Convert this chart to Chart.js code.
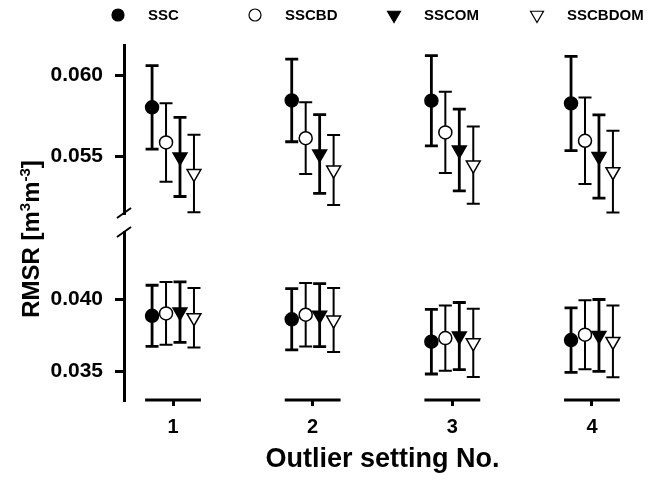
<!DOCTYPE html>
<html lang="en">
<head>
    <meta charset="UTF-8">
    <title>RMSR by outlier setting</title>
    <script src="https://cdn.jsdelivr.net/npm/chart.js"></script>
    <style>
        body { margin: 0; background: #fff; }
        #wrap { width: 652px; height: 485px; }
    </style>
</head>
<body>
    <div id="wrap">
        <canvas id="chartCanvas" width="652" height="485"></canvas>
    </div>

    <script>
        // Outlier settings (x categories) and series names
        const settings = ['1', '2', '3', '4'];
        const seriesNames = ['SSC', 'SSCBD', 'SSCOM', 'SSCBDOM'];

        // Upper panel: RMSR means and error (m3 m-3)
        const sscHigh = [0.05804, 0.05847, 0.05845, 0.05828];
        const sscbdHigh = [0.05587, 0.05613, 0.05649, 0.05597];
        const sscomHigh = [0.05497, 0.05515, 0.05540, 0.05500];
        const sscbdomHigh = [0.05394, 0.05416, 0.05447, 0.05406];
        const sscHighErr = [0.00258, 0.00256, 0.00279, 0.00292];
        const sscbdHighErr = [0.00243, 0.00222, 0.00252, 0.00268];
        const sscomHighErr = [0.00245, 0.00244, 0.00253, 0.00258];
        const sscbdomHighErr = [0.00240, 0.00217, 0.00239, 0.00253];

        // Lower panel: RMSR means and error
        const sscLow = [0.03886, 0.03862, 0.03706, 0.03717];
        const sscbdLow = [0.03903, 0.03894, 0.03731, 0.03755];
        const sscomLow = [0.03912, 0.03891, 0.03745, 0.03750];
        const sscbdomLow = [0.03873, 0.03857, 0.03698, 0.03708];
        const sscLowErr = [0.00213, 0.00213, 0.00225, 0.00225];
        const sscbdLowErr = [0.00219, 0.00221, 0.00227, 0.00240];
        const sscomLowErr = [0.00210, 0.00219, 0.00234, 0.00250];
        const sscbdomLowErr = [0.00207, 0.00223, 0.00237, 0.00250];

        // Tick values for the two parts of the broken y axis
        const highTicks = [0.055, 0.060];
        const lowTicks = [0.035, 0.040];

        const FONT = '"Liberation Sans", Arial, sans-serif';

        // marker style per series
        const styles = [
            { pointStyle: 'circle', rotation: 0, radius: 6.5, fill: '#000', errWidth: 2.8 },
            { pointStyle: 'circle', rotation: 0, radius: 6.5, fill: '#fff', errWidth: 2 },
            { pointStyle: 'triangle', rotation: 180, radius: 8, fill: '#000', errWidth: 2.8 },
            { pointStyle: 'triangle', rotation: 180, radius: 8, fill: '#fff', errWidth: 2 }
        ];

        const highData = [sscHigh, sscbdHigh, sscomHigh, sscbdomHigh];
        const highErr = [sscHighErr, sscbdHighErr, sscomHighErr, sscbdomHighErr];
        const lowData = [sscLow, sscbdLow, sscomLow, sscbdomLow];
        const lowErr = [sscLowErr, sscbdLowErr, sscomLowErr, sscbdomLowErr];

        // spread the four series around each setting
        const GROUP_SPREAD = 0.1;

        function makeDataset(s, values, errors, axis) {
            const st = styles[s];
            return {
                label: seriesNames[s],
                yAxisID: axis,
                data: values.map((v, i) => ({ x: i + 1 + (s - 1.5) * GROUP_SPREAD, y: v })),
                err: errors,
                errWidth: st.errWidth,
                pointStyle: st.pointStyle,
                pointRotation: st.rotation,
                pointRadius: st.radius,
                pointBackgroundColor: st.fill,
                pointBorderColor: '#000',
                pointBorderWidth: 1.5,
                showLine: false
            };
        }

        const datasets = [];
        for (let s = 0; s < seriesNames.length; s++) {
            datasets.push(makeDataset(s, highData[s], highErr[s], 'yHigh'));
            datasets.push(makeDataset(s, lowData[s], lowErr[s], 'yLow'));
        }

        // Error bars, drawn before the markers
        const errorBars = {
            id: 'errorBars',
            beforeDatasetsDraw(chart) {
                const ctx = chart.ctx;
                ctx.save();
                ctx.strokeStyle = '#000';
                chart.data.datasets.forEach((ds, di) => {
                    const meta = chart.getDatasetMeta(di);
                    const ys = chart.scales[ds.yAxisID];
                    ctx.lineWidth = ds.errWidth;
                    meta.data.forEach((pt, i) => {
                        const v = ds.data[i].y, e = ds.err[i];
                        const top = ys.getPixelForValue(v + e);
                        const bot = ys.getPixelForValue(v - e);
                        ctx.beginPath();
                        ctx.moveTo(pt.x, top); ctx.lineTo(pt.x, bot);
                        ctx.moveTo(pt.x - 6.5, top); ctx.lineTo(pt.x + 6.5, top);
                        ctx.moveTo(pt.x - 6.5, bot); ctx.lineTo(pt.x + 6.5, bot);
                        ctx.stroke();
                    });
                });
                ctx.restore();
            }
        };

        // Axis decorations: x segments under each setting, break marks, y title, legend
        const decorations = {
            id: 'decorations',
            afterDraw(chart) {
                const ctx = chart.ctx;
                const xs = chart.scales.x;
                const hi = chart.scales.yHigh;
                const lo = chart.scales.yLow;
                ctx.save();
                ctx.strokeStyle = '#000';
                ctx.fillStyle = '#000';

                // x axis pieces
                ctx.lineWidth = 3;
                settings.forEach((s, i) => {
                    const y = chart.chartArea.bottom;
                    ctx.beginPath();
                    ctx.moveTo(xs.getPixelForValue(i + 1 - 0.2), y);
                    ctx.lineTo(xs.getPixelForValue(i + 1 + 0.2), y);
                    ctx.stroke();
                });

                // break marks
                const ax = hi.right;
                ctx.lineWidth = 2;
                [hi.bottom, lo.top].forEach(y => {
                    ctx.beginPath();
                    ctx.moveTo(ax - 7, y + 5);
                    ctx.lineTo(ax + 7, y - 5);
                    ctx.stroke();
                });

                // y title with superscripts
                ctx.translate(31, 239);
                ctx.rotate(-Math.PI / 2);
                const parts = [
                    ['RMSR [m', 0], ['3', 1], ['m', 0], ['-3', 1], [']', 0]
                ];
                const big = 'bold 24px ' + FONT, small = 'bold 15px ' + FONT;
                let w = 0;
                parts.forEach(p => { ctx.font = p[1] ? small : big; w += ctx.measureText(p[0]).width; });
                let x = -w / 2;
                ctx.textBaseline = 'alphabetic';
                parts.forEach(p => {
                    ctx.font = p[1] ? small : big;
                    ctx.fillText(p[0], x, p[1] ? -1 : 8);
                    x += ctx.measureText(p[0]).width;
                });
                ctx.restore();

                // legend
                ctx.save();
                const legendX = [118, 255, 394, 537];
                const ly = 15;
                ctx.font = 'bold 15px ' + FONT;
                ctx.textBaseline = 'middle';
                seriesNames.forEach((name, s) => {
                    const st = styles[s];
                    ctx.fillStyle = st.fill;
                    ctx.strokeStyle = '#000';
                    ctx.lineWidth = 1.2;
                    Chart.helpers.drawPoint(ctx, {
                        pointStyle: st.pointStyle,
                        rotation: st.rotation,
                        radius: st.pointStyle === 'circle' ? 6 : 7.5,
                        borderWidth: 1.2
                    }, legendX[s], ly);
                    ctx.fillStyle = '#000';
                    ctx.fillText(name, legendX[s] + 30, ly + 1);
                });
                ctx.restore();
            }
        };

        const yCommon = {
            type: 'linear',
            position: 'left',
            stack: 'rmsr',
            afterFit(s) { s.width = 124; },
            border: { display: true, color: '#000', width: 3 },
            grid: { drawOnChartArea: false, drawTicks: true, tickLength: 9, color: '#000', lineWidth: 3 },
            ticks: {
                color: '#000',
                padding: 12,
                font: { family: FONT, size: 21, weight: 'bold' },
                callback: v => v.toFixed(3)
            }
        };

        new Chart(document.getElementById('chartCanvas'), {
            type: 'scatter',
            data: { datasets: datasets },
            options: {
                responsive: false,
                animation: false,
                layout: { padding: { top: 45, right: 11, left: 0, bottom: 0 } },
                plugins: { legend: { display: false }, tooltip: { enabled: false } },
                scales: {
                    x: {
                        type: 'linear',
                        position: 'bottom',
                        min: 0.649,
                        max: 4.351,
                        afterFit(s) { s.height = 85; },
                        afterBuildTicks(s) { s.ticks = settings.map((t, i) => ({ value: i + 1 })); },
                        border: { display: false },
                        grid: { drawOnChartArea: false, drawTicks: true, tickLength: 6, color: '#000', lineWidth: 3 },
                        ticks: {
                            color: '#000',
                            padding: 9,
                            font: { family: FONT, size: 20, weight: 'bold' },
                            callback: (v, i) => settings[i]
                        },
                        title: {
                            display: true,
                            text: 'Outlier setting No.',
                            color: '#000',
                            padding: { top: 0, bottom: 9 },
                            font: { family: FONT, size: 27, weight: 'bold' }
                        }
                    },
                    yHigh: Object.assign({}, yCommon, {
                        min: 0.0515, max: 0.0619, weight: 3, stackWeight: 168,
                        afterBuildTicks(s) { s.ticks = highTicks.map(v => ({ value: v })); }
                    }),
                    yGap: {
                        type: 'linear', position: 'left', stack: 'rmsr', weight: 2, stackWeight: 19,
                        afterFit(s) { s.width = 124; },
                        border: { display: false },
                        grid: { display: false },
                        ticks: { display: false }
                    },
                    yLow: Object.assign({}, yCommon, {
                        min: 0.0330, max: 0.0447, weight: 1, stackWeight: 168,
                        afterBuildTicks(s) { s.ticks = lowTicks.map(v => ({ value: v })); }
                    })
                }
            },
            plugins: [errorBars, decorations]
        });
    </script>
</body>
</html>
